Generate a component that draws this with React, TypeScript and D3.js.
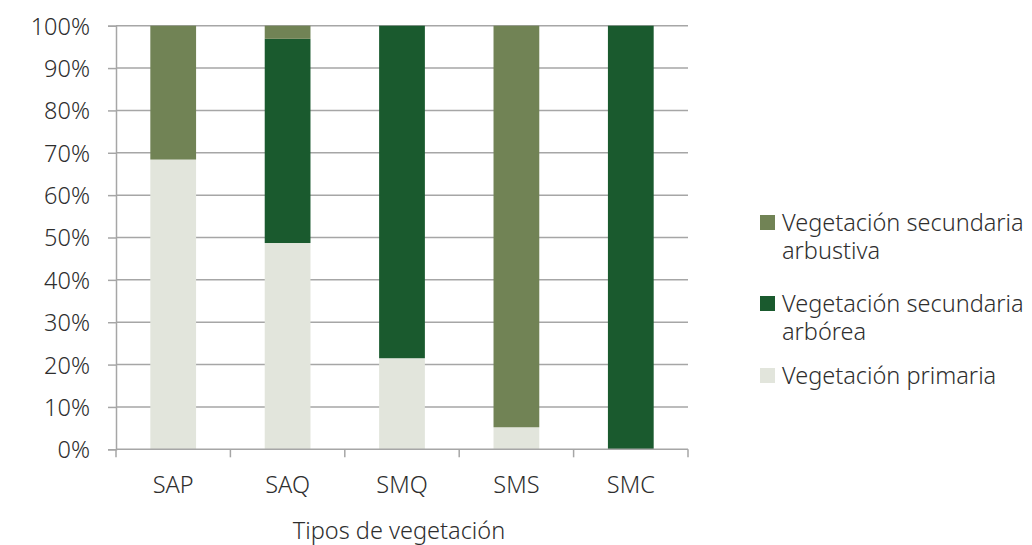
import * as d3 from 'd3';
import React, { useRef, useEffect } from 'react';

// categories and stacked shares (percent)
const categories = ['SAP', 'SAQ', 'SMQ', 'SMS', 'SMC'];
const primaria = [68.4, 48.7, 21.5, 5.2, 0];
const arborea = [0, 48.2, 78.5, 0, 100];
const arbustiva = [31.6, 3.1, 0, 94.8, 0];

const seriesKeys = ['primaria', 'arborea', 'arbustiva'];
const seriesColors = { primaria: '#e2e5dc', arborea: '#1a5a2e', arbustiva: '#718355' };
const legendItems = [
  { key: 'arbustiva', lines: ['Vegetación secundaria', 'arbustiva'] },
  { key: 'arborea', lines: ['Vegetación secundaria', 'arbórea'] },
  { key: 'primaria', lines: ['Vegetación primaria'] },
];
const yTicks = [0, 10, 20, 30, 40, 50, 60, 70, 80, 90, 100];

const FONT = "'Noto Sans', 'Open Sans', sans-serif";
const FS = 23.5;
const TXT = '#2e2e2e';

function App() {
  const ref = useRef(null);

  useEffect(() => {
    const svg = d3.select(ref.current);
    svg.selectAll('*').remove();

    const left = 116, right = 688, top = 25.7, bottom = 449.3;

    const table = categories.map((c, i) => ({
      cat: c, primaria: primaria[i], arborea: arborea[i], arbustiva: arbustiva[i]
    }));
    const stacked = d3.stack().keys(seriesKeys)(table);

    const x = d3.scaleBand().domain(categories).range([left, right]).paddingInner(0.6).paddingOuter(0.3);
    const xb = d3.scaleBand().domain(categories).range([left, right]);
    const y = d3.scaleLinear().domain([0, 100]).range([bottom, top]);

    // gridlines
    svg.append('g').selectAll('line').data(yTicks.filter(t => t > 0)).join('line')
      .attr('x1', left).attr('x2', right)
      .attr('y1', d => y(d)).attr('y2', d => y(d))
      .attr('stroke', '#a6a6a6').attr('stroke-width', 1.5);

    // bars
    svg.append('g').selectAll('g').data(stacked).join('g')
      .attr('fill', d => seriesColors[d.key])
      .selectAll('rect').data(d => d).join('rect')
      .attr('x', d => x(d.data.cat))
      .attr('width', x.bandwidth())
      .attr('y', d => y(d[1]))
      .attr('height', d => y(d[0]) - y(d[1]));

    // y axis
    const yAxis = d3.axisLeft(y).tickValues(yTicks).tickSize(8).tickFormat(d => d + '%');
    const gy = svg.append('g').attr('transform', `translate(${left},0)`).call(yAxis);
    gy.select('.domain').attr('stroke', '#a6a6a6').attr('stroke-width', 1.5);
    gy.selectAll('.tick line').attr('stroke', '#a6a6a6').attr('stroke-width', 1.5);
    gy.selectAll('.tick text').attr('x', -26).attr('dy', '0.36em')
      .attr('font-family', FONT).attr('font-size', FS).attr('font-weight', 300).attr('fill', TXT);

    // x axis
    const gx = svg.append('g').attr('transform', `translate(0,${bottom})`);
    gx.append('line').attr('x1', left).attr('x2', right).attr('stroke', '#a6a6a6').attr('stroke-width', 1.5);
    const bounds = categories.map(c => xb(c)).concat([right]);
    gx.selectAll('line.tk').data(bounds).join('line').attr('class', 'tk')
      .attr('x1', d => d).attr('x2', d => d).attr('y1', 0).attr('y2', 8)
      .attr('stroke', '#a6a6a6').attr('stroke-width', 1.5);
    gx.selectAll('text').data(categories).join('text')
      .attr('x', d => xb(d) + xb.bandwidth() / 2).attr('y', 44)
      .attr('text-anchor', 'middle').attr('font-family', FONT).attr('font-size', FS)
      .attr('font-weight', 300).attr('fill', TXT)
      .text(d => d);

    svg.append('text').attr('x', 399).attr('y', 539).attr('text-anchor', 'middle')
      .attr('font-family', FONT).attr('font-size', FS).attr('font-weight', 300).attr('fill', TXT)
      .text('Tipos de vegetación');

    // legend (two-line labels as one text with tspans)
    const ly = [231, 312, 384];
    const lg = svg.append('g');
    legendItems.forEach((it, i) => {
      lg.append('rect').attr('x', 760).attr('y', ly[i] - 16).attr('width', 15).attr('height', 15)
        .attr('fill', seriesColors[it.key]);
      const t = lg.append('text').attr('x', 782).attr('y', ly[i])
        .attr('font-family', FONT).attr('font-size', FS).attr('font-weight', 300).attr('fill', TXT);
      it.lines.forEach((l, j) => {
        t.append('tspan').attr('x', 782).attr('dy', j === 0 ? 0 : 28).text(l);
      });
    });
  }, []);

  return (
    <svg ref={ref} width={1032} height={545}
      style={{ position: 'absolute', left: 0, top: 0, background: '#fff' }} />
  );
}

export default App;
